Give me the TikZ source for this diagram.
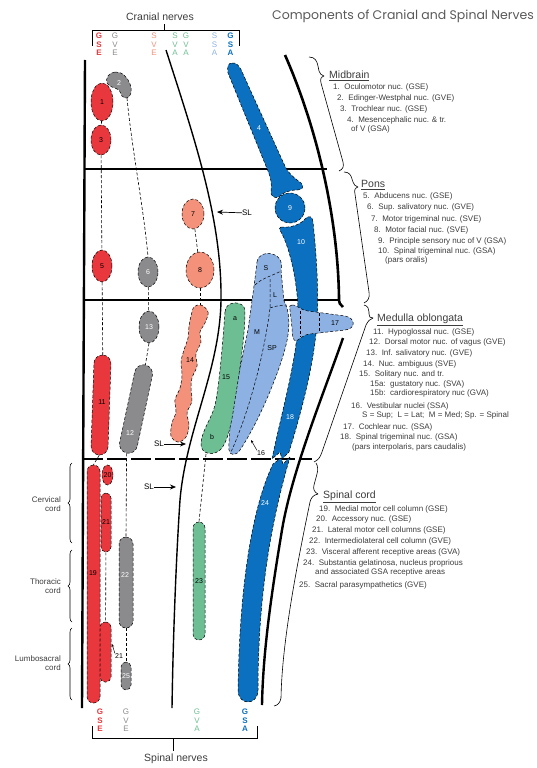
\documentclass[tikz,border=0pt]{standalone}
\usepackage{fontspec}
\setmainfont{Liberation Sans}
\newfontfamily\titlefont{Poppins}
\usepackage{tikz}
\usetikzlibrary{arrows.meta,positioning,shapes.geometric,decorations.pathreplacing,calc}
\usepackage{xcolor}

\definecolor{gseRed}{HTML}{E8383D}
\definecolor{gveGray}{HTML}{8B8B8D}
\definecolor{sveRose}{HTML}{F3917B}
\definecolor{vaGreen}{HTML}{6DBE93}
\definecolor{ssaBlue}{HTML}{8DB1E2}
\definecolor{gsaBlue}{HTML}{0A70BF}
\definecolor{inkGray}{HTML}{3C3C3C}

\begin{document}
\begin{tikzpicture}[x=1pt, y=-1pt,
  nuc/.style={draw=black, densely dashed, line width=0.5pt, inner sep=0pt,
              font=\fontsize{7}{8}\selectfont},
  oval/.style={nuc, ellipse},
  bar/.style={nuc, rectangle, rounded corners=#1},
  lbl/.style={inner sep=0pt, font=\fontsize{7}{8}\selectfont},
  link/.style={densely dashed, line width=0.6pt},
  wall/.style={line width=2.4pt},
  divide/.style={line width=1.3pt},
  brc/.style={line width=0.6pt},
  col/.style={align=center, inner sep=0pt, font=\fontsize{8}{8.5}\selectfont},
  colb/.style={align=center, inner sep=0pt, font=\bfseries\fontsize{8}{8.5}\selectfont},
  item/.style={anchor=west, inner sep=0pt, text=inkGray, font=\fontsize{8}{9}\selectfont},
  head/.style={anchor=west, inner sep=0pt, text=inkGray, font=\fontsize{10.5}{12}\selectfont},
  side/.style={anchor=east, align=right, inner sep=0pt, text=inkGray, font=\fontsize{8}{9}\selectfont},
  sl/.style={-{Stealth[length=6pt,width=5pt]}, line width=0.7pt},
  tip/.style={-{Stealth[length=3pt,width=2.5pt]}, line width=0.5pt}]
\useasboundingbox (0,0) rectangle (537,768);

% headings
\node[font=\titlefont\fontsize{12.5}{14}\selectfont, text=black!65] (title) at (403,16) {Components of Cranial and Spinal Nerves};
\node[font=\fontsize{10.5}{12}\selectfont, text=inkGray] (cranial) at (160,17) {Cranial nerves};
\coordinate (cr-tick) at (164,31);
\draw[line width=1pt] (92,46) -- (92,31) -- (239,31) -- (239,46);
\draw[line width=1pt] (cr-tick) -- (cr-tick |- cranial.south);

\node[colb, text=gseRed]  (c-gse) at (99,44.5)    {G\\S\\E};
\node[col, text=gveGray]  (c-gve) at (115,44.5)   {G\\V\\E};
\node[col, text=sveRose]  (c-sve) at (154,44.5)   {S\\V\\E};
\node[col, text=vaGreen]  (c-sva) at (175,44.5)   {S\\V\\A};
\node[col, text=vaGreen]  (c-gva) at (186,44.5)   {G\\V\\A};
\node[col, text=ssaBlue]  (c-ssa) at (214.5,44.5) {S\\S\\A};
\node[colb, text=gsaBlue] (c-gsa) at (230.5,44.5) {G\\S\\A};

% walls and levels
\draw[wall] (85,60) -- (82,708);
\draw[line width=1.4pt] (166,50) .. controls (195,140) and (222,220) .. (221,300)
  .. controls (220,370) and (186,430) .. (180,500) .. controls (176,560) and (173,640) .. (172,708);
\draw[line width=2.6pt] (285,55) .. controls (318,130) and (338,220) .. (339,298)
  .. controls (339,303) and (340,305) .. (343,307);
\draw[line width=2.4pt] (343,338) .. controls (325,390) and (292,470) .. (282,530)
  .. controls (272,590) and (263,650) .. (262,705);
\draw[divide] (85,169) -- (327,169);
\draw[divide] (84,300) -- (338,300);
\draw[divide, dash pattern=on 20pt off 4pt] (83,459) -- (312,459);

% level braces
\draw[brc] (309,57) .. controls (315,57) and (317,61) .. (318,66) -- (319,71) .. controls (320,74) and (321,75) .. (324,76);
\draw[brc] (324,76) .. controls (321,77) and (320,79) .. (321,83) -- (343,162) .. controls (344,167) and (343,169) .. (339,171);
\draw[brc] (344,172) .. controls (349,172) and (351,175) .. (352,179) -- (353,182) .. controls (354,185) and (355,186) .. (358,187);
\draw[brc] (358,187) .. controls (355,188) and (354,190) .. (355,194) -- (369,292) .. controls (370,298) and (368,301) .. (364,303);
\draw[brc] (364,305) .. controls (368,306) and (369,309) .. (369,312) -- (369,314) .. controls (369,317) and (370,318) .. (373,318);
\draw[brc] (373,318) .. controls (370,319) and (368,321) .. (366,325) -- (322,452) .. controls (320,458) and (318,460) .. (314,462);
\draw[brc] (316,463) .. controls (318,466) and (318,470) .. (317,474) -- (314,485) .. controls (313,489) and (314,492) .. (318,494);
\draw[brc] (318,494) .. controls (313,495) and (311,498) .. (310,502) .. controls (298,560) and (282,640) .. (281,698) .. controls (280,703) and (278,705) .. (274,706);

\draw[brc, decorate, decoration={brace, amplitude=4pt}] (72,543) -- (72,463);
\draw[brc, decorate, decoration={brace, amplitude=4pt}] (72,622) -- (72,550);
\draw[brc, decorate, decoration={brace, amplitude=4pt}] (72,700) -- (72,628);
\node[side] (cerv)  at (61,504) {Cervical\\cord};
\node[side] (thor)  at (61,586) {Thoracic\\cord};
\node[side] (lumbo) at (61,663) {Lumbosacral\\cord};

% GSA column
\draw[nuc, fill=gsaBlue] (232,63) .. controls (236,62) and (240,66) .. (243,74) -- (284,164)
  .. controls (288,174) and (296,179) .. (301,183) .. controls (305,187) and (302,190) .. (297,190)
  .. controls (289,190) and (282,193) .. (279,197) .. controls (275,199) and (270,196) .. (271,191)
  .. controls (272,185) and (271,178) .. (268,171) -- (228,73) .. controls (227,67) and (228,63) .. (232,63) -- cycle;
\node[lbl, text=white] (n4) at (259,128) {4};
\node[nuc, circle, fill=gsaBlue, text=white, minimum size=30] (n9) at (290,208) {9};
\draw[nuc, fill=gsaBlue] (281,227) .. controls (290,228) and (300,225) .. (305,219)
  .. controls (308,215) and (313,216) .. (313,222) .. controls (316,250) and (319,290) .. (317,320)
  .. controls (315,360) and (302,410) .. (289,452) -- (282,459) -- (280,452) -- (272,459)
  .. controls (282,410) and (297,360) .. (298,320) .. controls (299,290) and (291,250) .. (281,232)
  .. controls (279,229) and (279,227) .. (281,227) -- cycle;
\node[lbl, text=white] (n10) at (301,242) {10};
\node[lbl, text=white] (n18) at (290,417) {18};
\draw[nuc, fill=gsaBlue] (290,457) -- (283,464) -- (281,458) -- (273,464)
  .. controls (258,495) and (240,560) .. (238,690) .. controls (238,706) and (258,706) .. (258,690)
  .. controls (258,580) and (276,505) .. (290,457) -- cycle;
\node[lbl, text=white] (n24) at (265,503) {24};

% SSA column
\draw[nuc, fill=ssaBlue] (257,262) .. controls (258,255) and (265,252) .. (272,254)
  .. controls (280,256) and (283,262) .. (281,270) -- (284,301) .. controls (290,310) and (290,330) .. (286,345)
  .. controls (280,370) and (260,420) .. (240,450) .. controls (236,456) and (230,456) .. (229,450)
  .. controls (228,420) and (240,370) .. (248,330) .. controls (252,300) and (255,280) .. (257,262) -- cycle;
\draw[link, line width=0.5pt] (255,285) .. controls (262,278) and (272,276) .. (281,271);
\draw[link, line width=0.5pt] (270,279) -- (270,308) .. controls (265,350) and (250,410) .. (231,452);
\draw[link, line width=0.5pt] (270,308) .. controls (275,306) and (281,305) .. (286,306);
\node[lbl] (vS)  at (266,268) {S};
\node[lbl] (vL)  at (275,295) {L};
\node[lbl] (vM)  at (257,332) {M};
\node[lbl] (vSP) at (272,348) {SP};
\node[lbl] (n16) at (261,453) {16};
\coordinate (n16-tip) at (251,440);
\draw[tip] (n16.north west) -- (n16-tip);
\draw[nuc, fill=ssaBlue] (292,305) .. controls (296,304) and (300,310) .. (308,311) -- (345,316)
  .. controls (356,318) and (356,329) .. (345,330) -- (310,334) .. controls (302,335) and (299,340) .. (296,341)
  .. controls (293,341) and (292,335) .. (292,328) -- (290,310) .. controls (289,306) and (290,305) .. (292,305) -- cycle;
\draw[link, line width=0.5pt] (300,311) -- (300,337);
\draw[link, line width=0.5pt] (319,313) -- (319,333);
\node[lbl] (n17) at (335,323) {17};

% SVA / GVA column
\draw[nuc, fill=vaGreen] (225,312) .. controls (225,300) and (245,300) .. (245,311)
  .. controls (245,340) and (238,380) .. (235,400) .. controls (232,420) and (229,438) .. (222,448)
  .. controls (215,457) and (200,455) .. (201,443) .. controls (202,430) and (212,418) .. (215,405)
  .. controls (219,388) and (223,340) .. (225,312) -- cycle;
\node[lbl] (n15a) at (235,319) {a};
\node[lbl] (n15)  at (226,377) {15};
\node[lbl] (n15b) at (212,437) {b};
\coordinate (n15-bot) at (206,454);
\node[bar=6pt, fill=vaGreen, minimum width=12, minimum height=118] (n23) at (199,581) {23};
\draw[link] (n15-bot) -- (n23.north);

% SVE column
\node[oval, fill=sveRose, minimum width=22, minimum height=30] (n7) at (193,214) {7};
\node[oval, fill=sveRose, minimum width=28, minimum height=36] (n8) at (200,270) {8};
\draw[nuc, fill=sveRose] plot[smooth cycle, tension=0.6] coordinates {(201,305) (208,312) (205,323) (200,332)
  (201,342) (196,354) (197,366) (192,378) (191,390) (192,401) (187,413) (189,425) (186,437) (178,442)
  (171,436) (172,423) (176,412) (175,400) (180,388) (182,375) (181,362) (184,350) (188,338) (189,326)
  (191,316) (194,307)};
\node[lbl] (n14) at (190,360) {14};
\coordinate (n14-top) at (200,305);
\draw[link] (n7) -- (n8);
\draw[link] (n8) -- (n14-top);

% GVE column
\draw[nuc, fill=gveGray] plot[smooth cycle, tension=0.7] coordinates {(108,76) (115,72) (124,75) (130,84)
  (131,93) (127,98) (122,96) (119,90) (112,87) (107,83)};
\node[lbl, text=white] (n2) at (119,83) {2};
\coordinate (n2-bot) at (127,98);
\node[oval, fill=gveGray, text=white, minimum width=20, minimum height=30] (n6) at (148,272) {6};
\node[oval, fill=gveGray, text=white, minimum width=20, minimum height=32] (n13) at (149,327) {13};
\node[bar=9pt, fill=gveGray, minimum width=18, minimum height=90, rotate=-12] (n12) at (136,409) {};
\node[lbl, text=white] (n12l) at (130,433) {12};
\node[bar=7pt, fill=gveGray, minimum width=14, minimum height=91] (n22) at (126,582.5) {};
\node[lbl, text=white] (n22l) at (125,575) {22};
\node[bar=5pt, fill=gveGray, text=white, minimum width=10, minimum height=28] (n25) at (126,676) {25};
\draw[link] (n2-bot) .. controls (132,150) and (144,210) .. (n6.north);
\draw[link] (n6) -- (n13);
\draw[link] (n13.south) -- (n12.north);
\draw[link] (n12.south) -- (n22.north);
\draw[link] (n22) -- (n25);

% GSE column
\node[oval, fill=gseRed, minimum width=22, minimum height=38] (n1) at (102,102) {1};
\node[oval, fill=gseRed, minimum width=20, minimum height=30] (n3) at (101,140) {3};
\node[oval, fill=gseRed, minimum width=20, minimum height=32] (n5) at (102,266) {5};
\node[bar=8.5pt, fill=gseRed, minimum width=17, minimum height=100, rotate=-2] (n11) at (101,405) {};
\node[lbl] (n11l) at (102,402) {11};
\node[bar=6.5pt, fill=gseRed, minimum width=13, minimum height=238] (n19) at (93.5,584) {};
\node[lbl] (n19l) at (93,573) {19};
\node[bar=5pt, fill=gseRed, minimum width=10, minimum height=59] (n21a) at (106,522.5) {21};
\node[bar=5pt, fill=gseRed, minimum width=11, minimum height=60] (n21b) at (105.5,652) {};
\node[oval, fill=gseRed, minimum width=10, minimum height=20] (n20) at (107.5,475) {20};
\node[lbl] (n21l) at (119,656) {21};
\coordinate (n21-tip) at (112,644);
\draw[tip] (n21l.north west) -- (n21-tip);
\draw[link] (n1) -- (n3);
\draw[link] (n3) -- (n5);
\draw[link] (n5) -- (n11.north);
\draw[link] (n11.south) -- (n19.north);
\draw[link] (n21a) -- (n21b);

% sulcus limitans marks
\node[lbl, font=\fontsize{8}{9}\selectfont] (sl1) at (247,213) {SL};
\coordinate (sl1-tip) at (217,212);
\draw[sl] (sl1) -- (sl1-tip);
\node[lbl, font=\fontsize{8}{9}\selectfont] (sl2) at (159,444) {SL};
\coordinate (sl2-tip) at (186,444);
\draw[sl] (sl2) -- (sl2-tip);
\node[lbl, font=\fontsize{8}{9}\selectfont] (sl3) at (149,487) {SL};
\coordinate (sl3-tip) at (176,487);
\draw[sl] (sl3) -- (sl3-tip);

% legend lists
\node[head] (midbrain) at (329,76) {\underline{Midbrain}};
\node[item] (m1)  at (333,87)  {1.\ \ Oculomotor nuc. (GSE)};
\node[item] (m2)  at (337,98)  {2.\ \ Edinger-Westphal nuc. (GVE)};
\node[item] (m3)  at (340,109) {3.\ \ Trochlear nuc. (GSE)};
\node[item] (m4)  at (347,120) {4.\ \ Mesencephalic nuc. \& tr.};
\node[item] (m4b) at (351,129) {of V (GSA)};

\node[head] (pons) at (361,185) {\underline{Pons}};
\node[item] (p5)   at (363,196) {5.\ \ Abducens nuc. (GSE)};
\node[item] (p6)   at (367,207) {6.\ \ Sup. salivatory nuc. (GVE)};
\node[item] (p7)   at (371,219) {7.\ \ Motor trigeminal nuc. (SVE)};
\node[item] (p8)   at (374,230) {8.\ \ Motor facial nuc. (SVE)};
\node[item] (p9)   at (378,241) {9.\ \ Principle sensory nuc of V (GSA)};
\node[item] (p10)  at (378,251) {10.\ \ Spinal trigeminal nuc. (GSA)};
\node[item] (p10b) at (385,260) {(pars oralis)};

\node[head] (medulla) at (377,320) {\underline{Medulla oblongata}};
\node[item] (d11)  at (373,332) {11.\ \ Hypoglossal nuc. (GSE)};
\node[item] (d12)  at (369,342) {12.\ \ Dorsal motor nuc. of vagus (GVE)};
\node[item] (d13)  at (366,353) {13.\ \ Inf. salivatory nuc. (GVE)};
\node[item] (d14)  at (363,364) {14.\ \ Nuc. ambiguus (SVE)};
\node[item] (d15)  at (359,374) {15.\ \ Solitary nuc. and tr.};
\node[item] (d15a) at (370,384) {15a:\ \ gustatory nuc. (SVA)};
\node[item] (d15b) at (370,393) {15b:\ \ cardiorespiratory nuc (GVA)};
\node[item] (d16)  at (351,406) {16.\ \ Vestibular nuclei (SSA)};
\node[item] (d16b) at (362,415) {S = Sup;\ \ L = Lat;\ \ M = Med; Sp. = Spinal};
\node[item] (d17)  at (343,427) {17.\ \ Cochlear nuc. (SSA)};
\node[item] (d18)  at (340,437) {18.\ \ Spinal trigeminal nuc. (GSA)};
\node[item] (d18b) at (352,447) {(pars interpolaris, pars caudalis)};

\node[head] (spinal) at (323,497) {\underline{Spinal cord}};
\node[item] (s19)  at (319,509) {19.\ \ Medial motor cell column (GSE)};
\node[item] (s20)  at (316,519) {20.\ \ Accessory nuc. (GSE)};
\node[item] (s21)  at (312,530) {21.\ \ Lateral motor cell columns (GSE)};
\node[item] (s22)  at (309,541) {22.\ \ Intermediolateral cell column (GVE)};
\node[item] (s23)  at (306,552) {23.\ \ Visceral afferent receptive areas (GVA)};
\node[item] (s24)  at (303,563) {24.\ \ Substantia gelatinosa, nucleus proprious};
\node[item] (s24b) at (315,572) {and associated GSA receptive areas};
\node[item] (s25)  at (299,585) {25.\ \ Sacral parasympathetics (GVE)};

% spinal nerve components
\node[colb, text=gseRed]  (s-gse) at (100,720.5) {G\\S\\E};
\node[col, text=gveGray]  (s-gve) at (126,720.5) {G\\V\\E};
\node[col, text=vaGreen]  (s-gva) at (197,720.5) {G\\V\\A};
\node[colb, text=gsaBlue] (s-gsa) at (245,720.5) {G\\S\\A};
\node[font=\fontsize{10.5}{12}\selectfont, text=inkGray] (spnerves) at (176,759) {Spinal nerves};
\coordinate (sp-tick) at (173,738);
\draw[line width=1pt] (92,726) -- (92,738) -- (257,738) -- (257,726);
\draw[line width=1pt] (sp-tick) -- (sp-tick |- spnerves.north);
\end{tikzpicture}
\end{document}
